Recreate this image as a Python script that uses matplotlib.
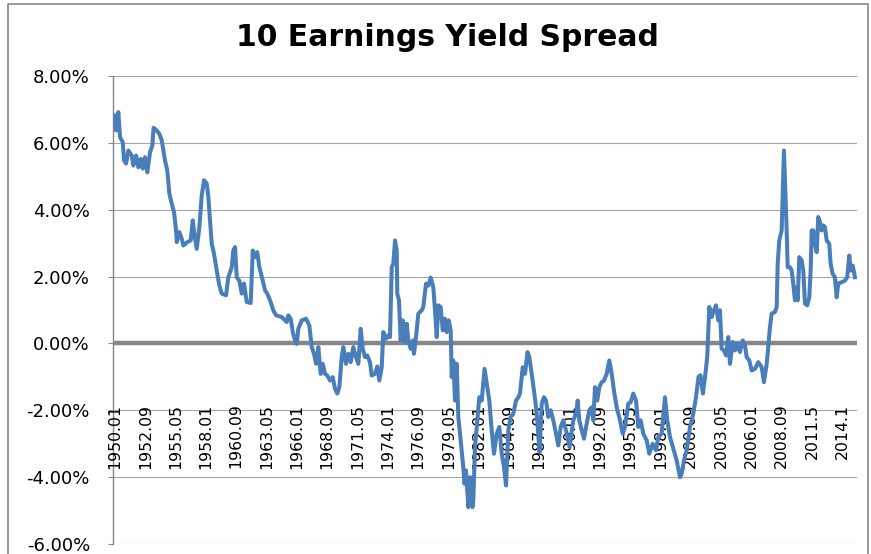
import matplotlib
matplotlib.use('Agg')
import matplotlib.pyplot as plt
from matplotlib.lines import Line2D

# Earnings yield spread (%)
dates = [
    1950.00, 1950.09, 1950.29, 1950.44, 1950.68, 1950.79, 1950.97, 1951.17, 1951.47, 1951.61,
    1951.85, 1952.05, 1952.26, 1952.44, 1952.64, 1952.84, 1953.08, 1953.28, 1953.39, 1953.67,
    1953.90, 1954.11, 1954.40, 1954.60, 1954.78, 1954.99, 1955.19, 1955.37, 1955.43, 1955.66,
    1955.87, 1956.01, 1956.36, 1956.66, 1956.84, 1956.98, 1957.19, 1957.42, 1957.63, 1957.83,
    1958.07, 1958.21, 1958.36, 1958.51, 1958.71, 1958.95, 1959.18, 1959.39, 1959.77, 1959.97,
    1960.27, 1960.41, 1960.56, 1960.71, 1960.94, 1961.15, 1961.35, 1961.59, 1961.94, 1962.12,
    1962.32, 1962.52, 1962.70, 1963.00, 1963.20, 1963.40, 1963.64, 1963.93, 1964.17, 1964.67,
    1965.11, 1965.25, 1965.46, 1965.64, 1965.84, 1965.99, 1966.13, 1966.43, 1966.81, 1967.10,
    1967.31, 1967.51, 1967.69, 1967.89, 1968.10, 1968.28, 1968.48, 1968.68, 1968.92, 1969.16,
    1969.36, 1969.56, 1969.74, 1969.95, 1970.09, 1970.33, 1970.53, 1970.74, 1970.97, 1971.21,
    1971.41, 1971.62, 1971.80, 1972.00, 1972.20, 1972.44, 1972.59, 1972.88, 1973.08, 1973.26,
    1973.47, 1973.61, 1973.85, 1974.05, 1974.20, 1974.35, 1974.49, 1974.64, 1974.79, 1974.84,
    1974.99, 1975.14, 1975.32, 1975.49, 1975.67, 1975.81, 1976.02, 1976.20, 1976.31, 1976.49,
    1976.69, 1976.99, 1977.13, 1977.37, 1977.57, 1977.78, 1978.01, 1978.16, 1978.31, 1978.45,
    1978.66, 1978.84, 1979.04, 1979.19, 1979.37, 1979.54, 1979.63, 1979.77, 1979.92, 1980.07,
    1980.21, 1980.42, 1980.65, 1980.76, 1980.89, 1981.09, 1981.26, 1981.46, 1981.53, 1981.68,
    1981.83, 1982.06, 1982.27, 1982.52, 1982.76, 1982.94, 1983.15, 1983.35, 1983.59, 1983.82,
    1984.03, 1984.23, 1984.41, 1984.61, 1984.82, 1985.05, 1985.29, 1985.49, 1985.64, 1985.88,
    1986.08, 1986.30, 1986.46, 1986.67, 1986.87, 1987.05, 1987.16, 1987.36, 1987.55, 1987.75,
    1987.93, 1988.13, 1988.34, 1988.57, 1988.81, 1989.01, 1989.22, 1989.45, 1989.69, 1990.00,
    1990.33, 1990.57, 1990.72, 1990.86, 1991.07, 1991.27, 1991.51, 1991.74, 1991.95, 1992.09,
    1992.24, 1992.44, 1992.62, 1992.83, 1993.03, 1993.27, 1993.50, 1993.71, 1993.91, 1994.15,
    1994.44, 1994.68, 1994.88, 1995.17, 1995.38, 1995.61, 1995.85, 1996.05, 1996.26, 1996.49,
    1996.79, 1997.02, 1997.32, 1997.61, 1997.81, 1998.11, 1998.40, 1998.60, 1998.84, 1999.13,
    1999.43, 1999.72, 1999.87, 2000.07, 2000.31, 2000.60, 2000.89, 2001.13, 2001.35, 2001.52,
    2001.74, 2001.96, 2002.12, 2002.30, 2002.51, 2002.71, 2002.89, 2003.09, 2003.24, 2003.39,
    2003.59, 2003.77, 2003.97, 2004.12, 2004.36, 2004.56, 2004.76, 2005.00, 2005.24, 2005.44,
    2005.59, 2005.82, 2006.03, 2006.32, 2006.61, 2006.91, 2007.11, 2007.35, 2007.49, 2007.64,
    2007.79, 2008.08, 2008.23, 2008.32, 2008.46, 2008.67, 2008.87, 2008.99, 2009.11, 2009.20,
    2009.40, 2009.55, 2009.69, 2009.84, 2009.99, 2010.08, 2010.22, 2010.43, 2010.57, 2010.72,
    2010.92, 2011.10, 2011.22, 2011.31, 2011.45, 2011.60, 2011.75, 2011.89, 2012.04, 2012.19,
    2012.33, 2012.48, 2012.63, 2012.86, 2012.98, 2013.16, 2013.36, 2013.51, 2013.65, 2013.95,
    2014.24, 2014.44, 2014.62, 2014.74, 2014.92, 2015.12,
]
spread = [
    6.82, 6.37, 6.92, 6.17, 6.02, 5.47, 5.38, 5.77, 5.62, 5.32,
    5.62, 5.27, 5.52, 5.23, 5.57, 5.12, 5.72, 5.92, 6.45, 6.37,
    6.27, 6.07, 5.47, 5.17, 4.48, 4.18, 3.93, 3.38, 3.03, 3.33,
    3.13, 2.93, 3.03, 3.08, 3.68, 3.28, 2.83, 3.48, 4.43, 4.88,
    4.78, 4.38, 3.68, 2.98, 2.68, 2.18, 1.73, 1.49, 1.44, 1.98,
    2.28, 2.78, 2.88, 1.98, 1.88, 1.49, 1.79, 1.24, 1.21, 2.78,
    2.58, 2.73, 2.28, 1.88, 1.59, 1.49, 1.29, 0.99, 0.84, 0.79,
    0.64, 0.84, 0.74, 0.34, 0.09, -0.01, 0.44, 0.69, 0.74, 0.54,
    -0.11, -0.31, -0.61, -0.11, -0.91, -0.61, -0.91, -0.96, -1.11, -1.01,
    -1.36, -1.50, -1.31, -0.41, -0.11, -0.61, -0.31, -0.56, -0.11, -0.41,
    -0.61, 0.44, -0.16, -0.41, -0.36, -0.56, -0.96, -0.91, -0.69, -1.11,
    -0.71, 0.34, 0.14, 0.24, 0.19, 2.28, 2.38, 3.08, 2.78, 1.49,
    1.29, 0.09, 0.69, 0.04, 0.59, 0.09, -0.16, 0.09, -0.31, 0.19,
    0.89, 0.99, 1.09, 1.79, 1.73, 1.97, 1.68, 0.99, 0.19, 1.14,
    1.09, 0.39, 0.74, 0.34, 0.69, 0.39, -1.01, -0.51, -1.71, -0.61,
    -2.20, -2.90, -3.70, -4.20, -3.80, -4.90, -4.00, -4.90, -4.70, -3.10,
    -2.50, -1.61, -1.71, -0.76, -1.31, -1.71, -2.60, -3.30, -2.70, -2.50,
    -3.30, -3.70, -4.25, -2.60, -2.20, -2.10, -1.71, -1.61, -1.50, -0.71,
    -0.91, -0.26, -0.41, -0.91, -1.41, -1.91, -2.30, -3.25, -1.80, -1.61,
    -1.71, -2.20, -2.00, -2.30, -2.70, -3.05, -2.50, -2.30, -2.60, -3.10,
    -2.30, -2.10, -1.71, -2.30, -2.60, -2.85, -2.40, -2.00, -1.91, -2.30,
    -1.31, -1.71, -1.31, -1.16, -1.11, -0.91, -0.51, -0.91, -1.41, -1.91,
    -2.30, -2.70, -2.50, -1.80, -1.76, -1.50, -1.71, -2.50, -2.30, -2.70,
    -2.90, -3.30, -3.00, -3.20, -2.80, -2.70, -1.61, -2.30, -2.80, -3.15,
    -3.50, -4.00, -3.90, -3.50, -3.20, -2.50, -2.10, -1.61, -1.00, -0.95,
    -1.50, -0.90, -0.40, 1.09, 0.79, 0.99, 1.14, 0.69, 0.99, -0.16,
    -0.21, -0.36, 0.19, -0.61, 0.04, -0.21, -0.01, -0.26, 0.09, -0.06,
    -0.41, -0.51, -0.81, -0.76, -0.56, -0.71, -1.16, -0.61, -0.11, 0.49,
    0.89, 0.94, 1.09, 2.38, 3.08, 3.38, 5.77, 4.58, 3.38, 2.28,
    2.28, 2.18, 1.79, 1.29, 1.68, 1.29, 2.58, 2.48, 2.18, 1.19,
    1.14, 1.38, 2.18, 3.38, 3.38, 2.98, 2.73, 3.78, 3.63, 3.38,
    3.53, 3.48, 3.08, 2.98, 2.38, 2.08, 1.98, 1.38, 1.79, 1.83,
    1.88, 1.98, 2.63, 2.18, 2.33, 1.98,
]

tick_labels = ['1950.01', '1952.09', '1955.05', '1958.01', '1960.09', '1963.05', '1966.01',
               '1968.09', '1971.05', '1974.01', '1976.09', '1979.05', '1982.01', '1984.09',
               '1987.05', '1990.01', '1992.09', '1995.05', '1998.01', '2000.09', '2003.05',
               '2006.01', '2008.09', '2011.5', '2014.1']
y_ticks = [-6, -4, -2, 0, 2, 4, 6, 8]

fig = plt.figure(figsize=(8.71, 5.54), dpi=100)
ax = fig.add_axes([113 / 871, 1 - 544 / 554, 744 / 871, 468 / 554])

ax.plot(dates, spread, color='#4a7ebb', lw=2.9, zorder=4, solid_joinstyle='round')
ax.axhline(0, color='#878787', lw=3.2, zorder=2)

# category labels sit just under the zero line, every 32 months
for i, lab in enumerate(tick_labels):
    ax.text(1950 + i * 32 / 12, -1.8, lab, rotation=90, ha='center', va='top',
            fontsize=11.3, zorder=3)

ax.set_xlim(1949.82, 2015.30)
ax.set_ylim(-6, 8)
ax.set_xticks([])
ax.set_yticks(y_ticks)
ax.set_yticklabels(['%.2f%%' % v for v in y_ticks])
ax.tick_params(axis='y', direction='out', length=3.6, color='#868686', pad=13, labelsize=13)
ax.yaxis.grid(True, color='#a6a6a6', lw=0.8, zorder=1)
ax.set_axisbelow(True)
for s in ['top', 'right', 'bottom']:
    ax.spines[s].set_visible(False)
ax.spines['left'].set_color('#868686')
ax.spines['left'].set_linewidth(1.0)

fig.text(0.514, 0.933, '10 Earnings Yield Spread', ha='center', va='center',
         fontsize=21.5, fontweight='bold')

# chart area border
bx0, bx1, by1 = 8 / 871, 868 / 871, 1 - 4 / 554
fig.add_artist(Line2D([bx0, bx0, bx1, bx1], [0, by1, by1, 0], color='#878787', lw=1.2,
                      transform=fig.transFigure))

fig.savefig('out.png', dpi=100)
